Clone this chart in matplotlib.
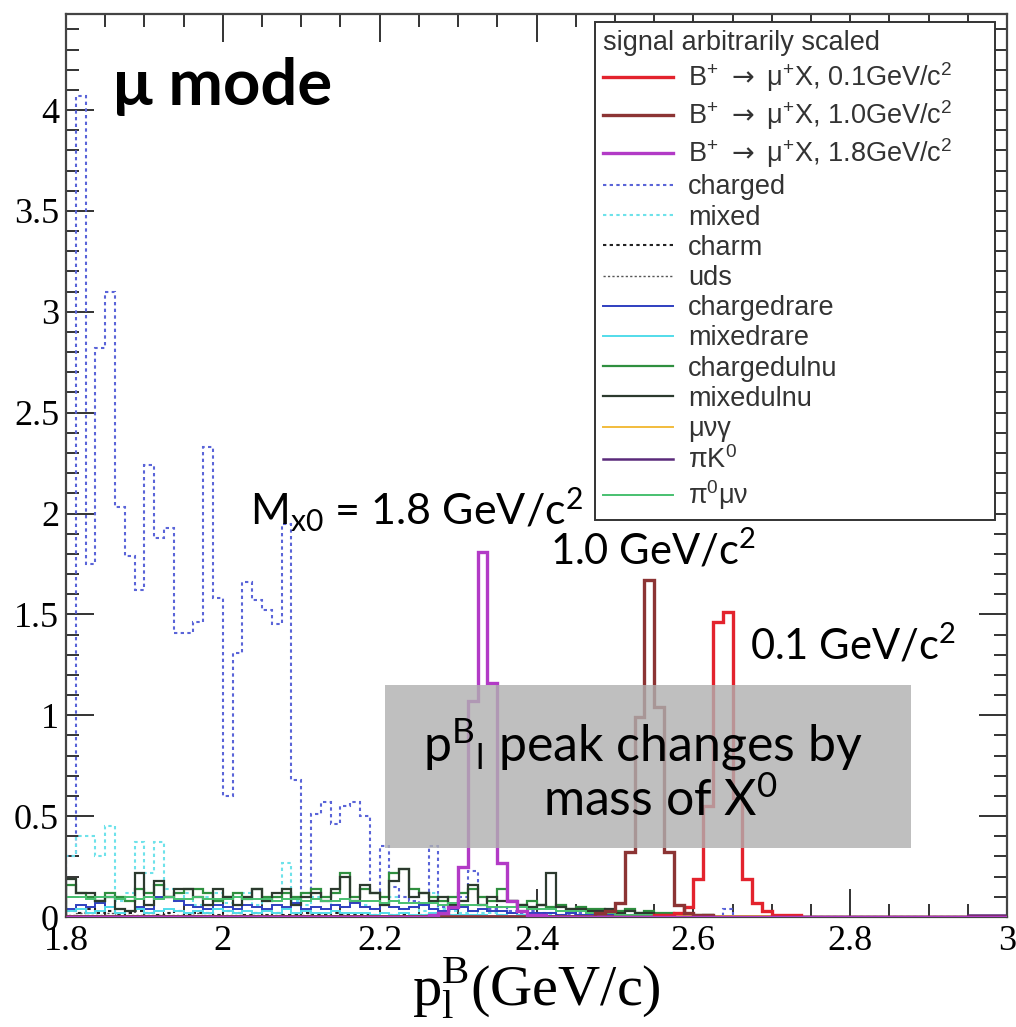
import numpy as np
import matplotlib
matplotlib.use("Agg")
import matplotlib.pyplot as plt
from matplotlib.lines import Line2D
from matplotlib.patches import Rectangle
from matplotlib.ticker import MultipleLocator, FuncFormatter

# ---- binning: 96 bins of 12.5 MeV/c between 1.8 and 3.0 GeV/c ----
X_MIN, X_MAX, N_BINS = 1.8, 3.0, 96
edges = np.linspace(X_MIN, X_MAX, N_BINS + 1)

# ---- signal samples (arbitrarily scaled) ----
sig_01 = [0.0] * 60 + [0.01, 0.01, 0.02, 0.05, 0.19, 0.55, 1.46, 1.51, 0.59, 0.19,
                       0.07, 0.03, 0.01, 0.01, 0.01] + [0.0] * 21
sig_10 = [0.0] * 54 + [0.02, 0.03, 0.07, 0.32, 0.99, 1.67, 1.04, 0.32, 0.06, 0.02,
                       0.01, 0.01] + [0.0] * 30
sig_18 = [0.0] * 37 + [0.01, 0.02, 0.05, 0.25, 1.07, 1.81, 1.16, 0.27, 0.08, 0.03,
                       0.01, 0.01] + [0.0] * 47

# ---- generic and rare backgrounds ----
charged = [0.30, 4.07, 1.75, 2.82, 3.10, 2.03, 1.79, 1.62, 2.24, 1.88,
           1.93, 1.41, 1.41, 1.46, 2.33, 1.58, 0.60, 1.31, 1.66, 1.57,
           1.52, 1.45, 1.95, 0.68, 0.12, 0.51, 0.57, 0.46, 0.55, 0.57,
           0.50, 0.12, 0.35, 0.15, 0.10, 0.08, 0.06, 0.35, 0.05, 0.05,
           0.10, 0.23, 0.06, 0.04, 0.05, 0.03, 0.02, 0.03, 0.02, 0.02,
           0.01, 0.01, 0.02, 0.01, 0.01, 0.01, 0.01, 0.01, 0.0, 0.01,
           0.01, 0.0, 0.0, 0.0, 0.0, 0.0, 0.0, 0.04] + [0.0] * 28
mixed = [0.30, 0.40, 0.40, 0.30, 0.45, 0.08, 0.12, 0.37, 0.22, 0.37,
         0.14, 0.08, 0.12, 0.06, 0.10, 0.12, 0.07, 0.10, 0.12, 0.06,
         0.08, 0.10, 0.27, 0.08, 0.06, 0.10, 0.08, 0.06, 0.05, 0.08,
         0.06, 0.04, 0.06, 0.10, 0.04, 0.05, 0.03, 0.12, 0.04, 0.03,
         0.02, 0.03, 0.02, 0.02, 0.01, 0.02, 0.01, 0.01, 0.01, 0.01] + [0.0] * 46
charm = [0.03, 0.02, 0.04, 0.02, 0.03, 0.01, 0.02, 0.03, 0.02, 0.01,
         0.02, 0.03, 0.01, 0.02, 0.02, 0.01, 0.03, 0.02, 0.01, 0.02,
         0.01, 0.02, 0.01, 0.01, 0.02, 0.01, 0.01, 0.02, 0.01, 0.01,
         0.01, 0.01, 0.0, 0.01, 0.01, 0.0, 0.01, 0.0, 0.0, 0.01] + [0.0] * 56
uds = [0.01, 0.02, 0.01, 0.01, 0.02, 0.01, 0.01, 0.01, 0.02, 0.01,
       0.01, 0.01, 0.01, 0.02, 0.01, 0.01, 0.01, 0.01, 0.01, 0.01,
       0.01, 0.01, 0.0, 0.01, 0.01, 0.0, 0.01, 0.0, 0.01, 0.0] + [0.0] * 66
chargedrare = [0.04, 0.06, 0.05, 0.07, 0.05, 0.04, 0.03, 0.05, 0.04, 0.10,
               0.10, 0.08, 0.06, 0.05, 0.04, 0.06, 0.05, 0.04, 0.06, 0.05,
               0.04, 0.06, 0.05, 0.07, 0.04, 0.05, 0.04, 0.06, 0.05, 0.07,
               0.05, 0.04, 0.06, 0.05, 0.04, 0.05, 0.06, 0.04, 0.03, 0.04,
               0.05, 0.03, 0.04, 0.03, 0.03, 0.02, 0.03, 0.02, 0.02, 0.02,
               0.01, 0.02, 0.01, 0.01, 0.01, 0.01, 0.01, 0.0, 0.01, 0.0] + [0.0] * 36
mixedrare = [0.03, 0.04, 0.02, 0.03, 0.05, 0.02, 0.03, 0.04, 0.02, 0.03,
             0.04, 0.03, 0.02, 0.03, 0.02, 0.04, 0.03, 0.02, 0.03, 0.02,
             0.03, 0.02, 0.04, 0.02, 0.03, 0.02, 0.02, 0.03, 0.02, 0.02,
             0.02, 0.01, 0.02, 0.01, 0.02, 0.01, 0.01, 0.02, 0.01, 0.01,
             0.01, 0.01, 0.01, 0.0, 0.01, 0.0, 0.01, 0.0, 0.0, 0.0] + [0.0] * 46
chargedulnu = [0.16, 0.12, 0.10, 0.08, 0.12, 0.10, 0.08, 0.14, 0.12, 0.16,
               0.10, 0.12, 0.14, 0.14, 0.12, 0.08, 0.10, 0.12, 0.09, 0.14,
               0.10, 0.10, 0.12, 0.10, 0.12, 0.14, 0.10, 0.12, 0.22, 0.10,
               0.14, 0.12, 0.10, 0.22, 0.24, 0.14, 0.12, 0.10, 0.08, 0.10,
               0.12, 0.14, 0.10, 0.08, 0.14, 0.08, 0.06, 0.08, 0.06, 0.05,
               0.06, 0.04, 0.05, 0.04, 0.04, 0.03, 0.03, 0.04, 0.02, 0.03,
               0.02, 0.02, 0.01, 0.01, 0.01, 0.01] + [0.0] * 30
mixedulnu = [0.19, 0.12, 0.12, 0.08, 0.10, 0.04, 0.03, 0.22, 0.06, 0.18,
             0.10, 0.14, 0.14, 0.10, 0.06, 0.14, 0.10, 0.06, 0.10, 0.14,
             0.08, 0.12, 0.14, 0.06, 0.10, 0.12, 0.08, 0.14, 0.20, 0.08,
             0.16, 0.12, 0.06, 0.18, 0.24, 0.10, 0.12, 0.08, 0.10, 0.06,
             0.08, 0.16, 0.06, 0.10, 0.08, 0.08, 0.06, 0.05, 0.06, 0.22,
             0.05, 0.04, 0.04, 0.03, 0.03, 0.04, 0.02, 0.03, 0.02, 0.02,
             0.01, 0.01, 0.01, 0.01, 0.0, 0.01] + [0.0] * 30
munugamma = [0.005] * 72 + [0.0] * 24
piK0 = [0.006] * 60 + [0.0] * 32 + [0.01, 0.01, 0.01, 0.01]
pi0munu = [0.10, 0.10, 0.09, 0.10, 0.10, 0.09, 0.10, 0.09, 0.10, 0.09,
           0.10, 0.09, 0.09, 0.10, 0.09, 0.09, 0.09, 0.10, 0.09, 0.09,
           0.09, 0.08, 0.09, 0.09, 0.08, 0.09, 0.08, 0.08, 0.09, 0.08,
           0.08, 0.08, 0.07, 0.08, 0.07, 0.07, 0.07, 0.07, 0.06, 0.07,
           0.06, 0.06, 0.06, 0.05, 0.05, 0.05, 0.05, 0.04, 0.04, 0.04,
           0.03, 0.03, 0.03, 0.02, 0.02, 0.02, 0.01, 0.01, 0.01, 0.01] + [0.0] * 36

x_ticks = [1.8, 2.0, 2.2, 2.4, 2.6, 2.8, 3.0]
y_ticks = [0, 0.5, 1, 1.5, 2, 2.5, 3, 3.5, 4]

SERIF = ["Liberation Serif", "DejaVu Serif"]
SANS = ["Liberation Sans", "DejaVu Sans"]
CALI = ["Lato", "DejaVu Sans"]

ARROW = r"$\rightarrow$"
dash = (0, (1.6, 1.6))
# series: (values, label, color, linewidth, linestyle)
series = [
    (sig_01, r"B$\mathregular{^{+}}$ " + ARROW + r" μ$\mathregular{^{+}}$X, 0.1GeV/c$\mathregular{^{2}}$", "#e3232d", 2.4, "-"),
    (sig_10, r"B$\mathregular{^{+}}$ " + ARROW + r" μ$\mathregular{^{+}}$X, 1.0GeV/c$\mathregular{^{2}}$", "#8c3434", 2.4, "-"),
    (sig_18, r"B$\mathregular{^{+}}$ " + ARROW + r" μ$\mathregular{^{+}}$X, 1.8GeV/c$\mathregular{^{2}}$", "#b23ac6", 2.4, "-"),
    (charged, "charged", "#5a64d8", 1.5, dash),
    (mixed, "mixed", "#6ee2ea", 1.5, dash),
    (charm, "charm", "#222222", 1.5, dash),
    (uds, "uds", "#555555", 1.0, dash),
    (chargedrare, "chargedrare", "#2f3fc0", 1.4, "-"),
    (mixedrare, "mixedrare", "#52dcea", 1.4, "-"),
    (chargedulnu, "chargedulnu", "#2f8f3f", 1.6, "-"),
    (mixedulnu, "mixedulnu", "#2c3a2e", 1.6, "-"),
    (munugamma, "μνγ", "#f2bc3c", 1.4, "-"),
    (piK0, r"πK$\mathregular{^{0}}$", "#5a2a7a", 1.8, "-"),
    (pi0munu, r"π$\mathregular{^{0}}$μν", "#48c070", 1.4, "-"),
]

fig = plt.figure(figsize=(10.16, 10.27), dpi=100)
ax = fig.add_axes([66 / 1016, 110 / 1027, 941 / 1016, 903 / 1027])

# backgrounds first, signals on top
draw_order = list(range(3, len(series))) + [0, 1, 2]
for k in draw_order:
    vals, lab, col, lw, ls = series[k]
    ax.stairs(vals, edges, color=col, linewidth=lw, linestyle=ls, baseline=0,
              zorder=3 if k < 3 else 2)

ax.set_xlim(X_MIN, X_MAX)
ax.set_ylim(0, 4.476)

ax.set_xticks(x_ticks)
ax.set_yticks(y_ticks)
ax.xaxis.set_minor_locator(MultipleLocator(0.05))
ax.yaxis.set_minor_locator(MultipleLocator(0.1))
fmt = FuncFormatter(lambda v, p: "%g" % v)
ax.xaxis.set_major_formatter(fmt)
ax.yaxis.set_major_formatter(fmt)
ax.tick_params(which="both", direction="in", top=True, right=True, color="#333333")
ax.tick_params(which="major", length=20, width=1.4, labelsize=26, pad=5)
ax.tick_params(which="minor", length=9.5, width=1.4)
ax.tick_params(axis="x", which="major", pad=6)
for lbl in ax.get_xticklabels() + ax.get_yticklabels():
    lbl.set_family(SERIF)
for sp in ax.spines.values():
    sp.set_linewidth(1.6)
    sp.set_color("#444444")

ax.set_xlabel(r"$\mathregular{p_{l}^{B}}$(GeV/c)", family=SERIF, fontsize=42, labelpad=-2)

# legend box spanning the upper right part of the frame
handles = [Line2D([], [], color=c, lw=lw, linestyle=ls) for (_, _, c, lw, ls) in series]
labels = [s[1] for s in series]
leg = ax.legend(handles, labels, loc="upper left", bbox_to_anchor=(0.562, 0.5, 0.425, 0.491),
                mode="expand",
                title="signal arbitrarily scaled", alignment="left",
                prop={"family": SANS, "size": 19.5},
                title_fontproperties={"family": SANS, "size": 19.5},
                frameon=True, fancybox=False, edgecolor="#333333", framealpha=1,
                handlelength=2.6, handletextpad=0.55, labelspacing=0.155,
                borderpad=0.3, borderaxespad=0)
leg.get_frame().set_linewidth(1.4)
for t in leg.get_texts():
    t.set_color("#333333")
leg.get_title().set_color("#333333")

# annotations
ax.text(0.05, 0.92, "μ mode", transform=ax.transAxes, family=CALI, fontsize=47,
        fontweight="bold", ha="left", va="center", zorder=6)
ax.text(2.035, 2.02, r"M$\mathregular{_{x0}}$ = 1.8 GeV/c$\mathregular{^{2}}$", family=CALI,
        fontsize=31, ha="left", va="center", zorder=6)
ax.text(2.417, 1.82, r"1.0 GeV/c$\mathregular{^{2}}$", family=CALI,
        fontsize=30, ha="left", va="center", zorder=6)
ax.text(2.672, 1.35, r"0.1 GeV/c$\mathregular{^{2}}$", family=CALI,
        fontsize=30, ha="left", va="center", zorder=6)

box = Rectangle((2.207, 0.34), 0.67, 0.81, facecolor="#b0b0b0", edgecolor="none",
                alpha=0.8, zorder=5)
ax.add_patch(box)
ax.text(2.536, 0.853, r"p$\mathregular{^{B}}$$\mathregular{_{l}}$ peak changes by", family=CALI,
        fontsize=36, ha="center", va="center", zorder=6)
ax.text(2.558, 0.575, r"mass of X$\mathregular{^{0}}$", family=CALI,
        fontsize=36, ha="center", va="center", zorder=6)

fig.savefig("out.png", dpi=100)
